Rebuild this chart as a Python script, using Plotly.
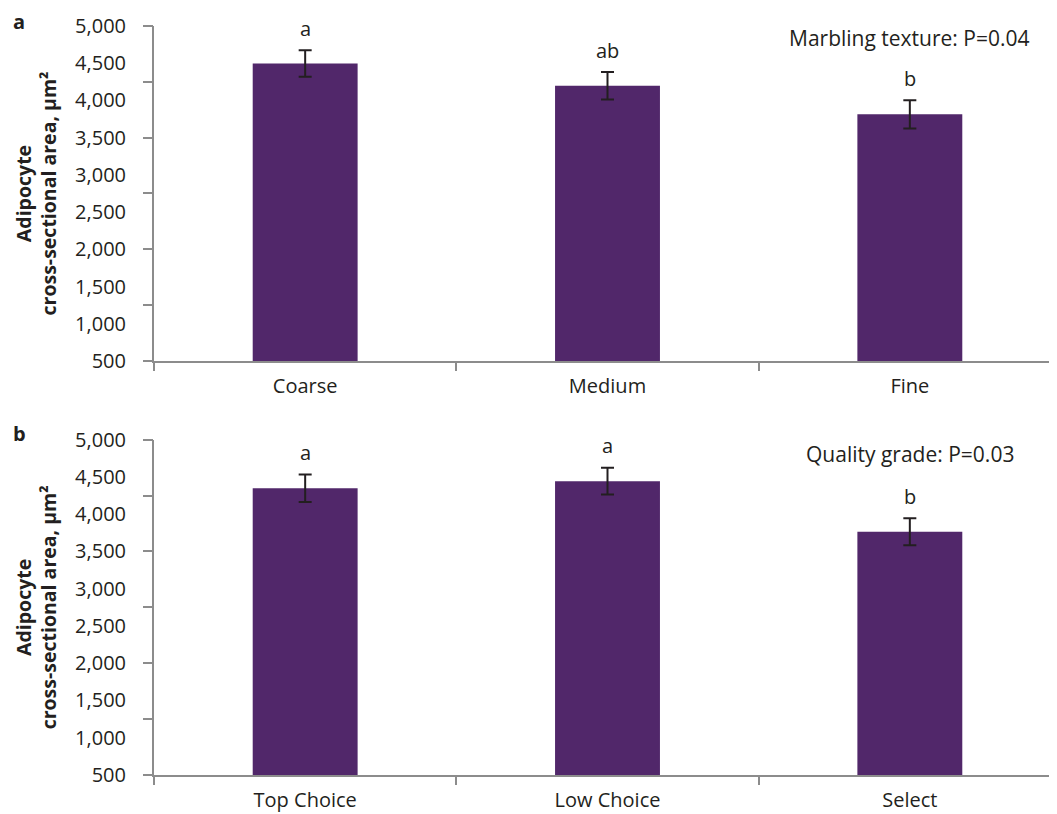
import plotly.graph_objects as go

# Data
cats_a = ["Coarse", "Medium", "Fine"]
means_a = [4497, 4196, 3814]
se_a = [178, 185, 190]
letters_a = ["a", "ab", "b"]

cats_b = ["Top Choice", "Low Choice", "Select"]
means_b = [4348, 4443, 3764]
se_b = [183, 179, 180]
letters_b = ["a", "a", "b"]

label_ticks = list(range(500, 5001, 500))
mark_ticks = [500, 1250, 2000, 2750, 3500, 4250, 5000]

p_text_a = "Marbling texture: P=0.04"
p_text_b = "Quality grade: P=0.03"
y_title = "<b>Adipocyte<br>cross-sectional area, µm²</b>"

BAR = "#51276a"
INK = "#231f20"
AX = "#8c8c8c"
FONT = "Open Sans"
FS = 20

fig = go.Figure()

for cats, means, se, xa, ya in [(cats_a, means_a, se_a, "x", "y"), (cats_b, means_b, se_b, "x2", "y2")]:
    fig.add_trace(go.Bar(
        x=cats, y=means, xaxis=xa, yaxis=ya, width=0.347,
        marker=dict(color=BAR, line=dict(width=0)),
        error_y=dict(type="data", array=se, color=INK, thickness=2, width=6.5),
        showlegend=False, hoverinfo="skip",
    ))

# invisible traces for the tick-mark overlay axes
fig.add_trace(go.Scatter(x=[cats_a[0]], y=[None], xaxis="x", yaxis="y3", showlegend=False))
fig.add_trace(go.Scatter(x=[cats_b[0]], y=[None], xaxis="x2", yaxis="y4", showlegend=False))

dom_a = [0.5528, 1.0]
dom_b = [0.0, 0.4477]

xcommon = dict(range=[-0.5, 2.5], showline=True, linecolor=AX, linewidth=2,
               ticks="outside", tickson="boundaries", ticklen=8, tickwidth=2, tickcolor=AX,
               showgrid=False, zeroline=False, tickfont=dict(size=FS, color=INK, family=FONT),
               ticklabelstandoff=6, fixedrange=True)
ylab = dict(range=[500, 5000], tickmode="array", tickvals=label_ticks, tickformat=",",
            ticks="", showline=True, linecolor=AX, linewidth=2, showgrid=False, zeroline=False,
            tickfont=dict(size=FS, color=INK, family=FONT), ticklabelstandoff=22)
ymark = dict(range=[500, 5000], tickmode="array", tickvals=mark_ticks, showticklabels=False,
             ticks="outside", ticklen=10, tickwidth=2, tickcolor=AX, showline=False,
             showgrid=False, zeroline=False)

fig.update_layout(
    width=1057, height=814,
    margin=dict(l=146, r=4, t=15, b=47),
    plot_bgcolor="white", paper_bgcolor="white",
    font=dict(family=FONT, size=FS, color=INK),
    xaxis=dict(domain=[0, 1], anchor="y", **xcommon),
    xaxis2=dict(domain=[0, 1], anchor="y2", **xcommon),
    yaxis=dict(domain=dom_a, anchor="x", **ylab),
    yaxis2=dict(domain=dom_b, anchor="x2", **ylab),
    yaxis3=dict(domain=dom_a, anchor="x", overlaying="y", **ymark),
    yaxis4=dict(domain=dom_b, anchor="x2", overlaying="y2", **ymark),
)

ann = []
for cats, means, se, letters, xr, yr in [(cats_a, means_a, se_a, letters_a, "x", "y"),
                                         (cats_b, means_b, se_b, letters_b, "x2", "y2")]:
    for c, m, s, l in zip(cats, means, se, letters):
        ann.append(dict(x=c, y=m + s, xref=xr, yref=yr, text=l, showarrow=False,
                        yanchor="middle", yshift=22, font=dict(size=FS, color=INK, family=FONT)))

ann.append(dict(x=cats_a[2], y=0.963, xref="x", yref="y domain", text=p_text_a, showarrow=False,
                xanchor="center", yanchor="middle", font=dict(size=21, color=INK, family=FONT)))
ann.append(dict(x=cats_b[2], y=0.958, xref="x2", yref="y2 domain", text=p_text_b, showarrow=False,
                xanchor="center", yanchor="middle", font=dict(size=21, color=INK, family=FONT)))

for yr in ["y domain", "y2 domain"]:
    ann.append(dict(x=0, xref="paper", xshift=-118, y=0.5, yref=yr, text=y_title, textangle=-90,
                    showarrow=False, xanchor="center", yanchor="middle",
                    font=dict(size=19.5, color=INK, family=FONT)))

ann.append(dict(x=0, xref="paper", xshift=-143, y=1, yref="y domain", yshift=5, text="<b>a</b>",
                showarrow=False, xanchor="left", yanchor="middle", font=dict(size=FS, color=INK, family=FONT)))
ann.append(dict(x=0, xref="paper", xshift=-143, y=1, yref="y2 domain", yshift=6, text="<b>b</b>",
                showarrow=False, xanchor="left", yanchor="middle", font=dict(size=FS, color=INK, family=FONT)))

fig.update_layout(annotations=ann)
fig.write_html("out.html")
